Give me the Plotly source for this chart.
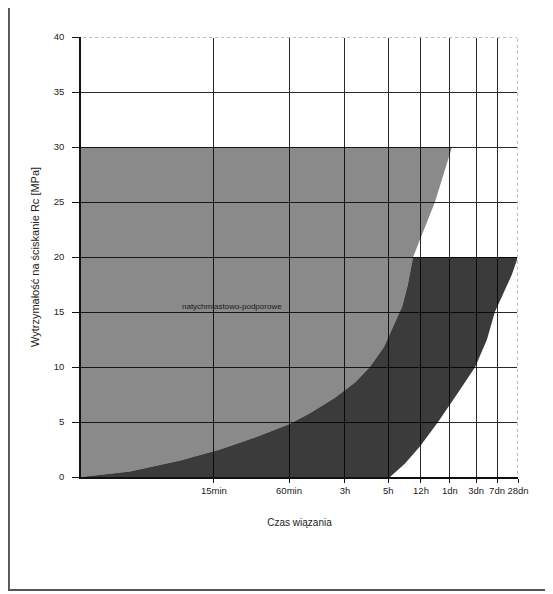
import plotly.graph_objects as go

# ---- data (x in time-axis units, y in MPa) ----
tick_labels = ["15min", "60min", "3h", "5h", "12h", "1dn", "3dn", "7dn", "28dn"]
tick_positions = [30.4, 47.6, 60.4, 70.3, 77.8, 84.4, 90.4, 95.2, 100.0]

y_ticks = [0, 5, 10, 15, 20, 25, 30, 35, 40]

# boundary between light and dark area (rising curve from origin)
curve_a_x = [0.0, 11.2, 22.7, 31.8, 39.8, 47.6, 52.4, 58.1, 62.7, 66.1, 69.3, 71.9, 73.5, 74.8, 76.0]
curve_a_y = [0.0, 0.5, 1.5, 2.5, 3.6, 4.8, 5.8, 7.2, 8.6, 10.0, 11.8, 14.0, 15.5, 17.5, 20.0]

# right edge of light area (above curve A) up to plateau
light_edge_x = [76.0, 81.0, 84.9]
light_edge_y = [20.0, 25.0, 30.0]
light_top = 30.0

# right/lower boundary of dark area
curve_b_x = [70.7, 74.1, 77.6, 81.7, 86.0, 90.2, 92.9, 94.7, 97.0, 98.6, 100.0]
curve_b_y = [0.0, 1.2, 2.8, 5.0, 7.5, 10.0, 12.5, 15.0, 17.0, 18.4, 20.0]
dark_top = 20.0

area_label = "natychmiastowo-podporowe"

# ---- build polygons ----
light_x = curve_a_x + light_edge_x[1:] + [0.0, 0.0]
light_y = curve_a_y + light_edge_y[1:] + [light_top, 0.0]

dark_x = curve_a_x + list(reversed(curve_b_x)) + [0.0]
dark_y = curve_a_y[:-1] + [dark_top] + list(reversed(curve_b_y)) + [0.0]

x_max = tick_positions[-1]
y_max = y_ticks[-1]

fig = go.Figure()
fig.add_trace(go.Scatter(
    x=light_x, y=light_y, fill="toself", mode="lines",
    line=dict(width=0), fillcolor="rgba(0,0,0,0.46)", hoverinfo="skip", showlegend=False))
fig.add_trace(go.Scatter(
    x=dark_x, y=dark_y, fill="toself", mode="lines",
    line=dict(width=0), fillcolor="rgba(0,0,0,0.77)", hoverinfo="skip", showlegend=False))

fig.add_annotation(x=34.6, y=15.5, text=area_label, showarrow=False,
                   font=dict(family="Liberation Sans, Arial, sans-serif", size=8, color="#1a1a1a"))

axis_font = dict(family="Liberation Sans, Arial, sans-serif", size=9.5, color="#222")

fig.update_layout(
    width=545, height=586,
    margin=dict(l=73, r=35, t=29, b=117),
    paper_bgcolor="white", plot_bgcolor="white",
    font=axis_font,
    xaxis=dict(
        range=[0, x_max], tickmode="array", tickvals=tick_positions, ticktext=tick_labels,
        showgrid=True, gridcolor="#2a2a2a", gridwidth=1,
        showline=True, linecolor="#111", linewidth=1.5,
        ticks="outside", ticklen=4, tickcolor="#111", zeroline=False,
        tickfont=axis_font,
        title=dict(text="Czas wiązania", standoff=24,
                   font=dict(family="Liberation Sans, Arial, sans-serif", size=10, color="#222")),
    ),
    yaxis=dict(
        range=[0, y_max], tickmode="array", tickvals=y_ticks, ticktext=[str(v) for v in y_ticks],
        showgrid=True, gridcolor="#2a2a2a", gridwidth=1,
        showline=True, linecolor="#111", linewidth=1.5,
        ticks="outside", ticklen=7, tickcolor="#111", zeroline=False,
        tickfont=axis_font, ticklabelstandoff=6,
        title=dict(text="Wytrzymałość na ściskanie Rc [MPa]", standoff=12,
                   font=dict(family="Liberation Sans, Arial, sans-serif", size=11, color="#222")),
    ),
    shapes=[
        dict(type="rect", xref="paper", yref="paper",
             x0=-0.165, x1=1.069, y0=-0.257, y1=1.068,
             line=dict(color="#555", width=2), layer="below"),
        # dotted plot-area edges (top and right)
        dict(type="line", xref="x", yref="y", x0=0.5, x1=x_max, y0=y_max, y1=y_max,
             line=dict(color="white", width=2), layer="above"),
        dict(type="line", xref="x", yref="y", x0=0.5, x1=x_max, y0=y_max, y1=y_max,
             line=dict(color="#777", width=1, dash="dot"), layer="above"),
        dict(type="line", xref="x", yref="y", x0=x_max, x1=x_max, y0=0.3, y1=y_max,
             line=dict(color="white", width=2), layer="above"),
        dict(type="line", xref="x", yref="y", x0=x_max, x1=x_max, y0=0.3, y1=y_max,
             line=dict(color="#777", width=1, dash="dot"), layer="above"),
    ],
)

fig.write_html("out.html")
